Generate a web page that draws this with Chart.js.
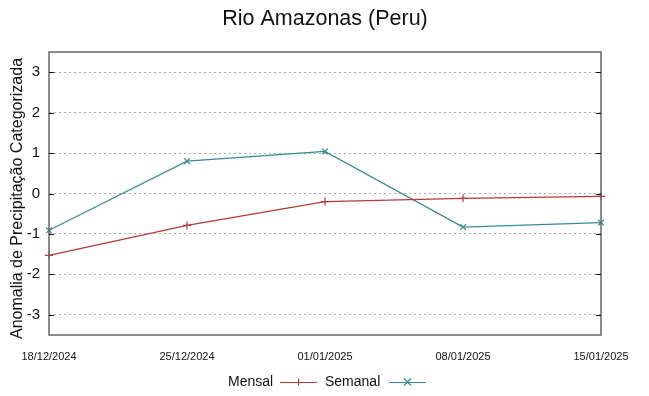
<!DOCTYPE html>
<html>
<head>
<meta charset="utf-8">
<script src="https://cdn.jsdelivr.net/npm/chart.js@4.4.1/dist/chart.umd.min.js"></script>
<style>
  html, body { margin: 0; padding: 0; background: #fff; }
  #wrap { width: 649px; height: 396px; }
</style>
</head>
<body>
<div id="wrap"><canvas id="chuva" width="649" height="396"></canvas></div>
<script>
// data
const datas = ['18/12/2024', '25/12/2024', '01/01/2025', '08/01/2025', '15/01/2025'];
const mensal = [-1.53, -0.79, -0.2, -0.12, -0.07];
const semanal = [-0.91, 0.8, 1.04, -0.83, -0.72];
const yTicks = [-3, -2, -1, 0, 1, 2, 3];

const titulo = 'Rio Amazonas (Peru)';
const tituloY = 'Anomalia de Precipitação Categorizada';

const corMensal = '#b33a3a';
const corSemanal = '#358c8c';

// gnuplot-ish frame, title, y label and legend
const molduraPlugin = {
  id: 'moldura',
  afterDraw(chart) {
    const { ctx, chartArea: a } = chart;
    const y = chart.scales.y;
    ctx.save();
    ctx.strokeStyle = '#666';
    ctx.lineWidth = 1.5;
    ctx.strokeRect(a.left, a.top, a.right - a.left, a.bottom - a.top);

    // small inward ticks
    ctx.strokeStyle = '#111';
    ctx.lineWidth = 1;
    yTicks.forEach(v => {
      const py = Math.round(y.getPixelForValue(v)) + 0.5;
      ctx.beginPath();
      ctx.moveTo(a.left, py); ctx.lineTo(a.left + 5, py);
      ctx.moveTo(a.right, py); ctx.lineTo(a.right - 5, py);
      ctx.stroke();
    });

    ctx.fillStyle = '#111';
    ctx.font = '21.5px "Liberation Sans", Arial, sans-serif';
    ctx.textAlign = 'center';
    ctx.textBaseline = 'middle';
    ctx.fillText(titulo, 325, 19);

    ctx.save();
    ctx.translate(18, (a.top + a.bottom) / 2 + 5);
    ctx.rotate(-Math.PI / 2);
    ctx.font = '16px "Liberation Sans", Arial, sans-serif';
    ctx.fillText(tituloY, 0, 0);
    ctx.restore();

    // legend: text then line sample with marker
    ctx.font = '14px "Liberation Sans", Arial, sans-serif';
    ctx.textAlign = 'left';
    const ly = 382;
    const itens = [
      { txt: 'Mensal', x: 228, x0: 280, x1: 317, cor: corMensal, m: '+' },
      { txt: 'Semanal', x: 325, x0: 389, x1: 426, cor: corSemanal, m: 'x' }
    ];
    itens.forEach(it => {
      ctx.fillStyle = '#111';
      ctx.fillText(it.txt, it.x, ly);
      ctx.strokeStyle = it.cor;
      ctx.lineWidth = 1.2;
      ctx.beginPath();
      ctx.moveTo(it.x0, ly + 0.5); ctx.lineTo(it.x1, ly + 0.5);
      const cx = (it.x0 + it.x1) / 2, r = 3.5;
      if (it.m === '+') {
        ctx.moveTo(cx, ly - r); ctx.lineTo(cx, ly + r);
      } else {
        ctx.moveTo(cx - r, ly - r); ctx.lineTo(cx + r, ly + r);
        ctx.moveTo(cx - r, ly + r); ctx.lineTo(cx + r, ly - r);
      }
      ctx.stroke();
    });
    ctx.restore();
  }
};

const ctx = document.getElementById('chuva').getContext('2d');
new Chart(ctx, {
  type: 'line',
  data: {
    labels: datas,
    datasets: [
      {
        label: 'Mensal',
        data: mensal,
        borderColor: corMensal,
        backgroundColor: corMensal,
        borderWidth: 1.2,
        pointStyle: 'cross',
        pointRadius: 4,
        pointBorderWidth: 1.2,
        tension: 0,
        clip: false
      },
      {
        label: 'Semanal',
        data: semanal,
        borderColor: corSemanal,
        backgroundColor: corSemanal,
        borderWidth: 1.2,
        pointStyle: 'crossRot',
        pointRadius: 4,
        pointBorderWidth: 1.2,
        tension: 0,
        clip: false
      }
    ]
  },
  options: {
    responsive: false,
    animation: false,
    layout: { padding: { left: 0, right: 48, top: 52, bottom: 0 } },
    plugins: {
      legend: { display: false },
      title: { display: false },
      tooltip: { enabled: false }
    },
    scales: {
      x: {
        offset: false,
        grid: { display: false, drawTicks: false },
        border: { display: false },
        ticks: {
          color: '#111',
          padding: 15,
          maxRotation: 0,
          autoSkip: false,
          font: { family: '"Liberation Sans Narrow", "Liberation Sans", Arial', size: 11 }
        },
        afterFit(s) { s.height = 61; }
      },
      y: {
        min: -3.5,
        max: 3.5,
        afterBuildTicks(s) { s.ticks = yTicks.map(v => ({ value: v })); },
        grid: {
          color: '#aaa',
          lineWidth: 1,
          drawTicks: false
        },
        border: { display: false, dash: [2, 3] },
        ticks: {
          color: '#111',
          padding: 9,
          font: { family: '"Liberation Sans", Arial', size: 15 }
        },
        afterFit(s) { s.width = 49; }
      }
    }
  },
  plugins: [molduraPlugin]
});
</script>
</body>
</html>
